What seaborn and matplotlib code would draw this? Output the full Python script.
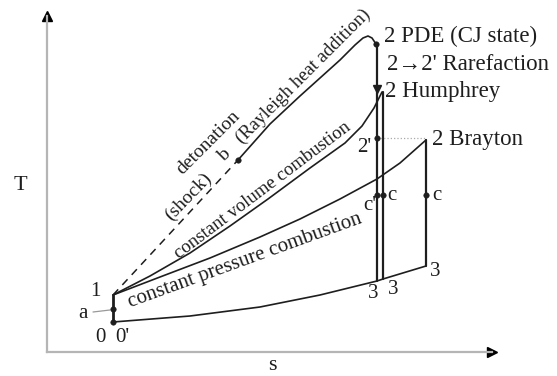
import matplotlib
matplotlib.use("Agg")
import matplotlib.pyplot as plt
import seaborn as sns

# schematic T-s diagram, units (origin at axis corner)
s_low = [66, 143, 213, 273, 330, 336, 379]
T_low = [30, 36, 45, 57, 71, 73, 86]

s_cp = [66, 113, 163, 213, 253, 293, 330, 353, 379]
T_cp = [57, 75, 94, 115, 133, 153, 173, 189, 212]

s_cv = [66, 103, 143, 183, 221, 263, 298, 315, 327, 335]
T_cv = [57, 76, 99, 126, 153, 184, 209, 226, 244, 260]

s_shock = [66, 191]
T_shock = [57, 192]

s_ray = [191, 223, 253, 293, 308, 316, 321, 325, 329]
T_ray = [192, 228, 256, 292, 307, 314, 316, 314, 308]

s_a = [46, 63]
T_a = [40, 42]

# vertical processes
s_pde, T_pde = [330, 330], [308, 71]
T_arrow = 263
s_hum, T_hum = [336, 336], [260, 73]
s_bra, T_bra = [379, 379], [212, 86]
s_dot_line, T_dot_line = [330, 379], [214, 214]

# state points
pt_s = [66, 66, 191, 329, 330, 330, 336, 379]
pt_T = [30, 43, 192, 308, 214, 157, 157, 157]

labels = [("1", 48, 60), ("a", 36, 39), ("0", 53, 15), ("0'", 75, 15),
          ("3", 326, 59), ("3", 346, 63), ("3", 388, 80),
          ("c'", 323, 146), ("c", 345, 157), ("c", 390, 157), ("2'", 317, 205)]
right_labels = [("2 PDE (CJ state)", 337, 316), ("2\u21922' Rarefaction", 340, 287),
                ("2 Humphrey", 338, 260), ("2 Brayton", 385, 212)]
curve_labels = [("detonation", 161, 209, 45, 14), ("(shock)", 141, 155, 46, 14),
                ("b", 177, 197, 45, 14), ("(Rayleigh heat addition)", 256, 276, 45, 13.5),
                ("constant volume combustion", 216, 162, 37, 13.5),
                ("constant pressure combustion", 198, 91, 20, 15)]

sns.set_theme(style="white")
plt.rcParams['font.family'] = ['Liberation Serif', 'DejaVu Serif']
ink = '#1e1e1e'

fig = plt.figure(figsize=(5.57, 3.76), dpi=100)
ax = fig.add_axes([47 / 557, 24 / 376, 445 / 557, 336 / 376])
ax.set_xlim(0, 445)
ax.set_ylim(0, 336)
ax.set_xticks([])
ax.set_yticks([])
for side in ['top', 'right']:
    ax.spines[side].set_visible(False)
for side in ['left', 'bottom']:
    ax.spines[side].set_color('#b5b5b5')
    ax.spines[side].set_linewidth(1.6)
ax.plot(1, 0, '>', color='black', ms=7, transform=ax.transAxes, clip_on=False)
ax.plot(0, 1, '^', color='black', ms=7, transform=ax.transAxes, clip_on=False)

kw = dict(sort=False, estimator=None, color=ink, ax=ax, legend=False)
sns.lineplot(x=s_low, y=T_low, lw=1.2, **kw)
sns.lineplot(x=s_cp, y=T_cp, lw=1.2, **kw)
sns.lineplot(x=s_cv, y=T_cv, lw=1.2, **kw)
sns.lineplot(x=s_ray, y=T_ray, lw=1.2, **kw)
sns.lineplot(x=s_shock, y=T_shock, lw=1.1, linestyle=(0, (5, 4)), **kw)
sns.lineplot(x=[s_low[0], s_cp[0]], y=[T_low[0], T_cp[0]], lw=2.0, **kw)
sns.lineplot(x=s_pde, y=T_pde, lw=1.6, **kw)
sns.lineplot(x=s_hum, y=T_hum, lw=1.6, **kw)
sns.lineplot(x=s_bra, y=T_bra, lw=1.6, **kw)
ax.plot(s_a, T_a, color='#999999', lw=0.9)
ax.plot(s_dot_line, T_dot_line, color='#aaaaaa', lw=0.9, linestyle=':')
ax.plot(s_pde[0], T_arrow, 'v', color=ink, ms=6)

sns.scatterplot(x=pt_s, y=pt_T, color=ink, s=16, edgecolor=ink, ax=ax, zorder=5)

for txt, x, y in labels:
    ax.text(x, y, txt, fontsize=15, color=ink, ha='center', va='center')
for txt, x, y in right_labels:
    ax.text(x, y, txt, fontsize=16.5, color=ink, ha='left', va='center')
for txt, x, y, rot, fs in curve_labels:
    ax.text(x, y, txt, fontsize=fs, color=ink, ha='center', va='center',
            rotation=rot, rotation_mode='anchor')

ax.text(-27, 167, "T", fontsize=16, color=ink, ha='center', va='center', clip_on=False)
ax.text(225, -13, "s", fontsize=16, color=ink, ha='center', va='center', clip_on=False)

fig.savefig("out.png", dpi=100)
